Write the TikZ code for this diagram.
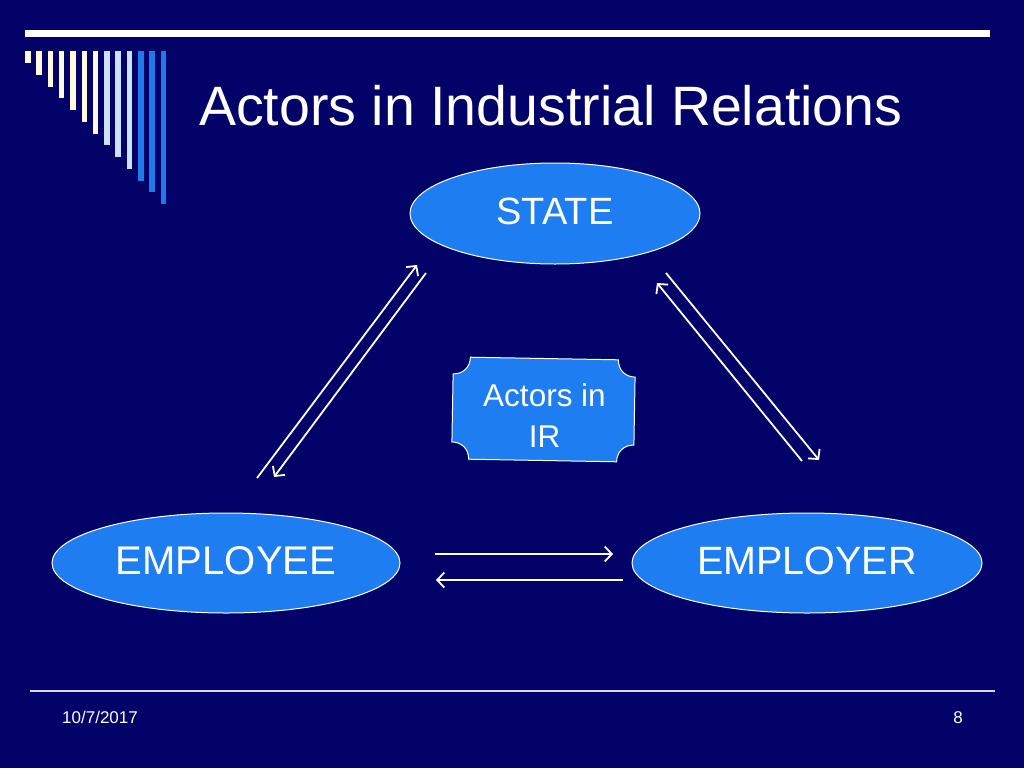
\documentclass[tikz,border=0pt]{standalone}
\usepackage{fontspec}
\setmainfont{Liberation Sans}
\usetikzlibrary{shapes.geometric,arrows.meta}
\definecolor{bg}{RGB}{2,2,104}
\definecolor{nodeblue}{RGB}{30,125,240}
\definecolor{cream}{RGB}{255,250,222}
\definecolor{lightblue}{RGB}{205,225,250}
\definecolor{barblue}{RGB}{30,122,235}
\definecolor{rule}{RGB}{215,215,245}
\tikzset{
  actor/.style={ellipse, draw=white, line width=1pt, fill=nodeblue, text=white, inner sep=0pt, text depth=0.42em},
  arr/.style={draw=white, line width=1.8pt, -{Straight Barb[length=7pt,width=15pt,line width=1.8pt]}},
  plaque/.style={draw=white, line width=1pt, fill=nodeblue},
}
\begin{document}
\begin{tikzpicture}[x=1pt,y=-1pt]
\fill[bg] (0,0) rectangle (1024,768);
\useasboundingbox (0,0) rectangle (1024,768);
% top bar
\fill[white] (25,30) rectangle (990,37.5);
% decorative bars
\foreach \i/\c in {0/cream,1/cream,2/cream,3/cream,4/cream,5/cream,6/cream,7/lightblue,8/lightblue,9/lightblue,10/barblue,11/barblue,12/barblue}{
  \fill[\c] ({25+11.3*\i},51) rectangle ({30.5+11.3*\i},{63+11.75*\i});
}
% title
\node[anchor=base west, text=white, inner sep=0pt, font=\fontsize{55.5}{60}\selectfont] (title) at (199,125) {Actors in Industrial Relations};
% actors
\node[actor, minimum width=290pt, minimum height=101pt, font=\fontsize{38}{44}\selectfont] (state) at (555,213.5) {STATE};
\node[actor, minimum width=348pt, minimum height=100pt, font=\fontsize{40}{46}\selectfont] (employee) at (226,563) {EMPLOYEE};
\node[actor, minimum width=350pt, minimum height=100pt, font=\fontsize{39.5}{46}\selectfont] (employer) at (807,563) {EMPLOYER};
% plaque
\begin{scope}[shift={(543.5,409.5)}, rotate=-1]
\path[plaque] (-74,-51) -- (74,-51) .. controls (74,-41) and (81,-34) .. (91,-34)
  -- (91,34) .. controls (81,34) and (74,41) .. (74,51)
  -- (-74,51) .. controls (-74,41) and (-81,34) .. (-91,34)
  -- (-91,-34) .. controls (-81,-34) and (-74,-41) .. (-74,-51) -- cycle;
\end{scope}
\node[text=white, align=center, inner sep=0pt, font=\fontsize{31.5}{41}\selectfont] (ir) at (544.5,416) {Actors in\\IR};
% arrow end points
\coordinate (a1) at (257,478); \coordinate (a2) at (417,265);
\coordinate (b1) at (426,273); \coordinate (b2) at (274,477);
\coordinate (c1) at (802,461); \coordinate (c2) at (657,283);
\coordinate (d1) at (666,273); \coordinate (d2) at (819,460);
\coordinate (e1) at (435,554); \coordinate (e2) at (613,554);
\coordinate (f1) at (623,580); \coordinate (f2) at (436,580);
\draw[arr] (a1) -- (a2);
\draw[arr] (b1) -- (b2);
\draw[arr] (c1) -- (c2);
\draw[arr] (d1) -- (d2);
\draw[arr] (e1) -- (e2);
\draw[arr] (f1) -- (f2);
% footer
\draw[rule, line width=2pt] (30,690.5) -- (995,690.5);
\node[anchor=base west, text=white, inner sep=0pt, font=\fontsize{17}{20}\selectfont] (date) at (62,723.5) {10/7/2017};
\node[anchor=base east, text=white, inner sep=0pt, font=\fontsize{17}{20}\selectfont] (page) at (963,723.5) {8};
\end{tikzpicture}
\end{document}
